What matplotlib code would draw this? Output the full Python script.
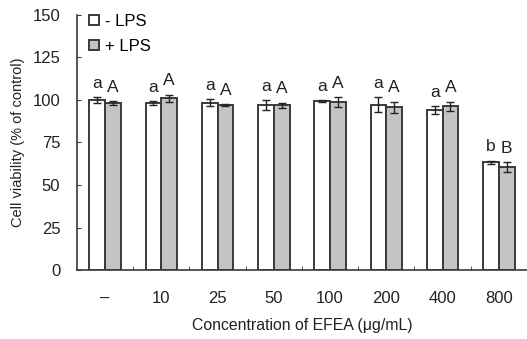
import numpy as np
import matplotlib.pyplot as plt

plt.rcParams['font.family'] = ['Liberation Sans', 'DejaVu Sans']

# data
conc = ['–', '10', '25', '50', '100', '200', '400', '800']
minus_lps = [100.0, 98.2, 98.4, 97.0, 99.4, 97.3, 94.0, 63.3]
minus_err = [1.8, 1.0, 2.0, 2.8, 0.6, 4.3, 2.2, 1.0]
plus_lps = [98.3, 101.0, 97.0, 97.0, 98.8, 95.8, 96.4, 60.5]
plus_err = [1.0, 2.2, 0.5, 1.5, 3.0, 3.2, 2.6, 3.0]
minus_letters = ['a', 'a', 'a', 'a', 'a', 'a', 'a', 'b']
plus_letters = ['A', 'A', 'A', 'A', 'A', 'A', 'A', 'B']

x = np.arange(len(conc))
w = 0.28
edge = '#3a3a3a'
txt = '#222222'

fig = plt.figure(figsize=(5.27, 3.39), dpi=100)
ax = fig.add_axes([0.146, 0.2035, 0.854, 0.7523])

ekw = dict(ecolor=txt, elinewidth=1.0, capsize=3, capthick=1.0)
ax.bar(x - w / 2, minus_lps, w, color='white', edgecolor=edge, linewidth=1.4,
       yerr=minus_err, error_kw=ekw, label='- LPS', zorder=2)
ax.bar(x + w / 2, plus_lps, w, color='#c4c4c4', edgecolor=edge, linewidth=1.4,
       yerr=plus_err, error_kw=ekw, label='+ LPS', zorder=2)

# significance letters
for i in range(len(conc)):
    ax.annotate(minus_letters[i], (x[i] - w / 2, minus_lps[i] + minus_err[i]),
                xytext=(0, 4.5), textcoords='offset points', ha='center', va='bottom',
                fontsize=12.5, color=txt)
    ax.annotate(plus_letters[i], (x[i] + w / 2, plus_lps[i] + plus_err[i]),
                xytext=(0, 4.5), textcoords='offset points', ha='center', va='bottom',
                fontsize=12.5, color=txt)

ax.set_xlim(-0.5, len(conc) - 0.5)
ax.set_ylim(0, 150)
ax.set_yticks([0, 25, 50, 75, 100, 125, 150])
ax.set_xticks(x)
ax.set_xticklabels(conc)
ax.set_xticks(x[:-1] + 0.5, minor=True)
ax.tick_params(axis='x', which='major', length=0, pad=15, labelsize=12, colors=txt)
ax.tick_params(axis='x', which='minor', direction='in', length=3, color=edge)
ax.tick_params(axis='y', direction='in', length=3, color=edge, pad=12, labelsize=12,
               labelcolor=txt)

ax.spines['top'].set_visible(False)
ax.spines['right'].set_visible(False)
for s in ['left', 'bottom']:
    ax.spines[s].set_color(edge)
    ax.spines[s].set_linewidth(1.2)

ax.set_xlabel('Concentration of EFEA (μg/mL)', fontsize=11.4, color=txt, labelpad=9)
ax.set_ylabel('Cell viability (% of control)', fontsize=10.5, color=txt, labelpad=5)

ax.legend(loc='upper left', frameon=False, fontsize=12, handlelength=0.6,
          handleheight=0.6, handletextpad=0.4, labelspacing=0.6,
          bbox_to_anchor=(0.0, 1.05), borderaxespad=0.3)

plt.savefig('out.png', dpi=100)
